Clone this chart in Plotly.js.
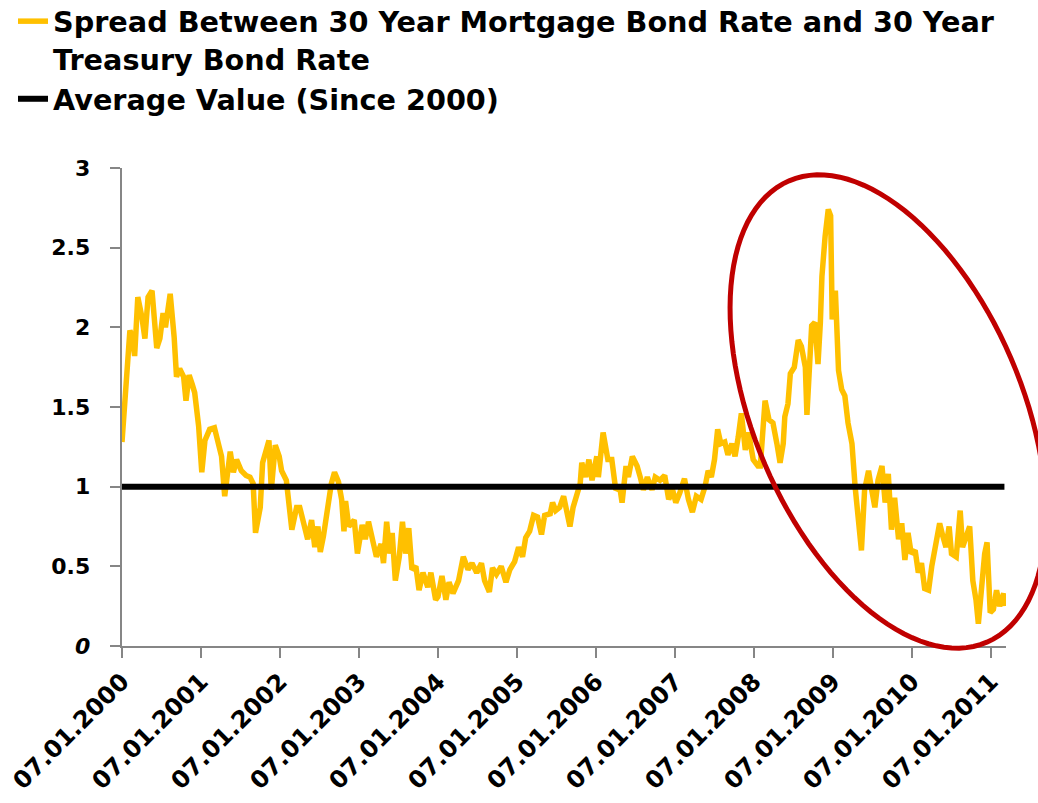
<!DOCTYPE html>
<html>
<head>
<meta charset="utf-8">
<script src="https://cdn.plot.ly/plotly-3.0.1.min.js"></script>
<style>
  html, body { margin: 0; padding: 0; background: #fff; }
  #chart { width: 1038px; height: 803px; }
</style>
</head>
<body>
<div id="chart"></div>
<script>
// ---- Data ----
const years = [
  2000.00, 2000.03, 2000.08, 2000.10, 2000.13, 2000.16, 2000.20, 2000.25, 2000.29, 2000.33,
  2000.38, 2000.44, 2000.48, 2000.52, 2000.55, 2000.61, 2000.66, 2000.69, 2000.73, 2000.78,
  2000.81, 2000.85, 2000.89, 2000.92, 2000.97, 2001.01, 2001.05, 2001.11, 2001.17, 2001.22,
  2001.26, 2001.30, 2001.37, 2001.41, 2001.45, 2001.51, 2001.57, 2001.62, 2001.66, 2001.69,
  2001.75, 2001.78, 2001.81, 2001.86, 2001.89, 2001.94, 2001.99, 2002.02, 2002.08, 2002.15,
  2002.21, 2002.25, 2002.29, 2002.35, 2002.40, 2002.44, 2002.48, 2002.51, 2002.55, 2002.60,
  2002.65, 2002.69, 2002.74, 2002.78, 2002.81, 2002.83, 2002.87, 2002.94, 2002.98, 2003.04,
  2003.08, 2003.12, 2003.18, 2003.22, 2003.28, 2003.31, 2003.35, 2003.39, 2003.42, 2003.46,
  2003.51, 2003.55, 2003.59, 2003.63, 2003.67, 2003.72, 2003.76, 2003.81, 2003.87, 2003.91,
  2003.97, 2004.00, 2004.05, 2004.10, 2004.14, 2004.19, 2004.26, 2004.32, 2004.38, 2004.43,
  2004.49, 2004.55, 2004.59, 2004.65, 2004.69, 2004.74, 2004.80, 2004.86, 2004.91, 2004.97,
  2005.02, 2005.07, 2005.11, 2005.16, 2005.21, 2005.26, 2005.31, 2005.35, 2005.42, 2005.45,
  2005.49, 2005.54, 2005.59, 2005.63, 2005.67, 2005.71, 2005.76, 2005.80, 2005.82, 2005.87,
  2005.91, 2005.95, 2006.01, 2006.03, 2006.09, 2006.15, 2006.20, 2006.25, 2006.30, 2006.33,
  2006.38, 2006.41, 2006.46, 2006.52, 2006.56, 2006.60, 2006.65, 2006.71, 2006.75, 2006.81,
  2006.87, 2006.92, 2006.97, 2007.01, 2007.06, 2007.12, 2007.17, 2007.22, 2007.27, 2007.33,
  2007.38, 2007.42, 2007.46, 2007.50, 2007.54, 2007.58, 2007.63, 2007.67, 2007.72, 2007.76,
  2007.80, 2007.84, 2007.89, 2007.93, 2007.99, 2008.05, 2008.08, 2008.14, 2008.19, 2008.24,
  2008.29, 2008.33, 2008.37, 2008.39, 2008.43, 2008.46, 2008.51, 2008.56, 2008.60, 2008.65,
  2008.67, 2008.70, 2008.73, 2008.77, 2008.81, 2008.84, 2008.86, 2008.90, 2008.94, 2008.97,
  2008.99, 2009.03, 2009.07, 2009.11, 2009.15, 2009.19, 2009.24, 2009.28, 2009.32, 2009.36,
  2009.40, 2009.45, 2009.49, 2009.53, 2009.57, 2009.62, 2009.66, 2009.70, 2009.74, 2009.78,
  2009.83, 2009.87, 2009.91, 2009.95, 2009.99, 2010.04, 2010.08, 2010.12, 2010.16, 2010.21,
  2010.25, 2010.30, 2010.35, 2010.39, 2010.43, 2010.47, 2010.50, 2010.56, 2010.61, 2010.64,
  2010.68, 2010.73, 2010.77, 2010.81, 2010.84, 2010.88, 2010.92, 2010.95, 2010.99, 2011.03,
  2011.07, 2011.11, 2011.16, 2011.17
];
const spread = [
  1.28, 1.48, 1.82, 1.98, 1.94, 1.82, 2.19, 2.07, 1.93, 2.19,
  2.23, 1.87, 1.93, 2.09, 2.00, 2.21, 1.94, 1.69, 1.74, 1.69,
  1.54, 1.70, 1.64, 1.59, 1.38, 1.09, 1.29, 1.36, 1.37, 1.27,
  1.19, 0.94, 1.22, 1.09, 1.17, 1.10, 1.07, 1.06, 1.02, 0.71,
  0.87, 1.15, 1.21, 1.29, 0.98, 1.26, 1.19, 1.10, 1.04, 0.73,
  0.87, 0.87, 0.79, 0.67, 0.79, 0.62, 0.75, 0.59, 0.69, 0.85,
  1.02, 1.09, 1.03, 0.92, 0.72, 0.91, 0.75, 0.79, 0.58, 0.76,
  0.67, 0.78, 0.65, 0.56, 0.64, 0.52, 0.78, 0.58, 0.71, 0.41,
  0.56, 0.78, 0.58, 0.74, 0.48, 0.50, 0.35, 0.46, 0.37, 0.46,
  0.29, 0.31, 0.44, 0.29, 0.40, 0.33, 0.41, 0.56, 0.48, 0.52,
  0.46, 0.52, 0.41, 0.34, 0.49, 0.45, 0.50, 0.40, 0.48, 0.53,
  0.62, 0.56, 0.68, 0.72, 0.82, 0.81, 0.70, 0.82, 0.83, 0.90,
  0.85, 0.87, 0.94, 0.86, 0.75, 0.87, 0.97, 1.02, 1.15, 1.06,
  1.17, 1.04, 1.19, 1.06, 1.34, 1.17, 1.17, 0.98, 1.00, 0.90,
  1.13, 1.06, 1.19, 1.13, 1.06, 0.98, 1.06, 0.98, 1.06, 1.04,
  1.07, 0.92, 0.98, 0.90, 0.96, 1.05, 0.92, 0.84, 0.94, 0.92,
  1.00, 1.10, 1.06, 1.17, 1.36, 1.27, 1.28, 1.20, 1.27, 1.19,
  1.31, 1.46, 1.23, 1.34, 1.17, 1.13, 1.13, 1.54, 1.42, 1.40,
  1.27, 1.15, 1.27, 1.44, 1.52, 1.71, 1.75, 1.92, 1.88, 1.75,
  1.45, 1.69, 2.01, 2.03, 1.77, 2.03, 2.32, 2.57, 2.74, 2.70,
  2.05, 2.23, 1.73, 1.61, 1.57, 1.40, 1.27, 1.00, 0.79, 0.60,
  0.98, 1.10, 0.98, 0.87, 1.04, 1.13, 0.90, 1.08, 0.73, 0.93,
  0.67, 0.77, 0.54, 0.71, 0.58, 0.60, 0.46, 0.52, 0.36, 0.35,
  0.50, 0.64, 0.77, 0.69, 0.62, 0.75, 0.58, 0.56, 0.85, 0.62,
  0.69, 0.75, 0.41, 0.29, 0.14, 0.41, 0.58, 0.65, 0.21, 0.23,
  0.35, 0.25, 0.33, 0.25
];
const averageValue = 1.0;
const avgYears = [2000.0, 2011.17];
const avgValues = [averageValue, averageValue];

const tickYears = [2000, 2001, 2002, 2003, 2004, 2005, 2006, 2007, 2008, 2009, 2010, 2011];
const tickLabels = ["07.01.2000", "07.01.2001", "07.01.2002", "07.01.2003", "07.01.2004", "07.01.2005",
                    "07.01.2006", "07.01.2007", "07.01.2008", "07.01.2009", "07.01.2010", "07.01.2011"];
const yTickVals = [0, 0.5, 1, 1.5, 2, 2.5, 3];
const yTickText = ["<i>0</i>", "0.5", "1", "1.5", "2", "2.5", "3"];

const seriesNames = ["Spread Between 30 Year Mortgage Bond Rate and 30 Year<br>Treasury Bond Rate",
                     "Average Value (Since 2000)"];

// ---- Layout geometry ----
const W = 1038, H = 803;
const M = {l: 122, r: 32, t: 168, b: 157, autoexpand: false};
const plotW = W - M.l - M.r, plotH = H - M.t - M.b;

// Highlight ellipse (pixel geometry), converted to paper coordinates
const ell = {cx: 888, cy: 411.5, a: 251, b: 134, angleDeg: 66.8};
function ellipsePath(e) {
  const th = e.angleDeg * Math.PI / 180;
  const pts = [];
  for (let i = 0; i <= 120; i++) {
    const t = i / 120 * 2 * Math.PI;
    const px = e.cx + e.a * Math.cos(t) * Math.cos(th) - e.b * Math.sin(t) * Math.sin(th);
    const py = e.cy + e.a * Math.cos(t) * Math.sin(th) + e.b * Math.sin(t) * Math.cos(th);
    const u = (px - M.l) / plotW;
    const v = (H - M.b - py) / plotH;
    pts.push((i === 0 ? "M" : "L") + u.toFixed(5) + "," + v.toFixed(5));
  }
  return pts.join(" ") + " Z";
}

const FONT = "'DejaVu Sans', Lato, sans-serif";
// padding between y tick labels and the ticks (ticksuffix is ignored with ticktext)
const yLabelPad = "\u00a0\u00a0";

const traces = [
  {
    x: years, y: spread, type: "scatter", mode: "lines",
    name: seriesNames[0],
    line: {color: "#FFC000", width: 5.5}
  },
  {
    x: avgYears, y: avgValues, type: "scatter", mode: "lines",
    name: seriesNames[1],
    line: {color: "#000000", width: 6}
  }
];

const layout = {
  width: W, height: H,
  margin: M,
  paper_bgcolor: "#ffffff",
  plot_bgcolor: "#ffffff",
  font: {family: FONT, color: "#000000", size: 22, weight: 700},
  showlegend: true,
  legend: {
    x: (13 - M.l) / plotW, y: (H - M.b + 4) / plotH,
    xanchor: "left", yanchor: "top",
    font: {family: FONT, size: 28.7, weight: 700, color: "#000"},
    bgcolor: "rgba(0,0,0,0)",
    valign: "top",
    tracegroupgap: 0
  },
  xaxis: {
    range: [2000, 2000 + plotW / 79],
    tickmode: "array", tickvals: tickYears, ticktext: tickLabels,
    tickangle: -45,
    ticks: "outside", ticklen: 10, tickwidth: 2, tickcolor: "#868686",
    showline: true, linecolor: "#868686", linewidth: 2,
    showgrid: false, zeroline: false,
    tickfont: {family: FONT, size: 24, weight: 700, color: "#000"},
    fixedrange: true
  },
  yaxis: {
    range: [0, 3],
    tickmode: "array", tickvals: yTickVals,
    ticktext: yTickText.map(t => t + yLabelPad),
    ticks: "outside", ticklen: 10, tickwidth: 2, tickcolor: "#868686",
    showline: true, linecolor: "#868686", linewidth: 2,
    showgrid: false, zeroline: false,
    tickfont: {family: FONT, size: 22, weight: 700, color: "#000"},
    fixedrange: true
  },
  shapes: [
    {
      type: "path", xref: "paper", yref: "paper",
      path: ellipsePath(ell),
      line: {color: "#C00000", width: 5},
      fillcolor: "rgba(0,0,0,0)",
      layer: "above"
    }
  ]
};

Plotly.newPlot("chart", traces, layout, {displayModeBar: false, staticPlot: true});
</script>
</body>
</html>
